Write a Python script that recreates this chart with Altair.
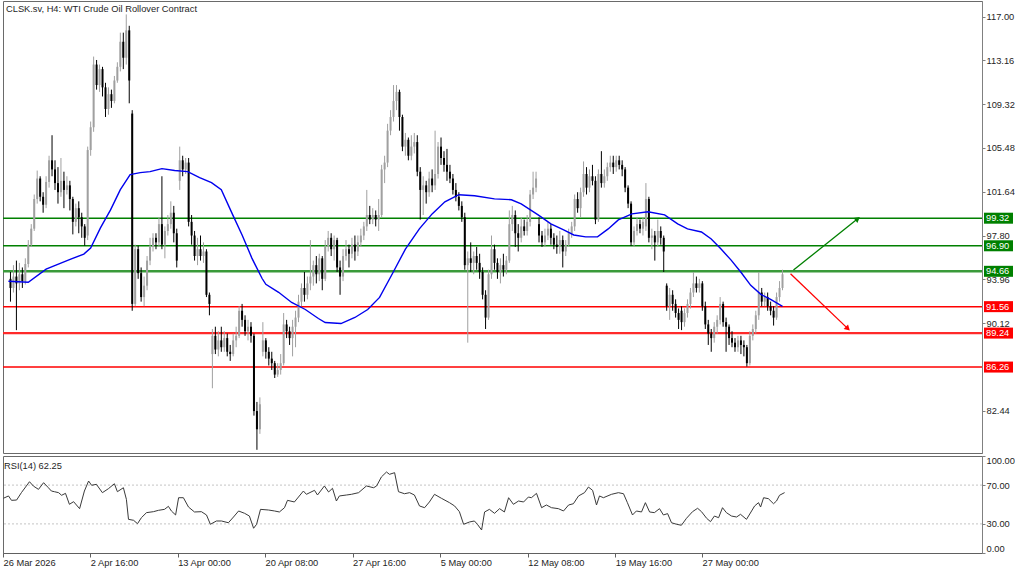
import altair as alt
import pandas as pd

# ---------------- data ----------------
bar_open = [94.0, 93.2, 94.2, 93.6, 94.4, 93.8, 95.3, 97.0, 98.4, 101.0,
 102.8, 101.2, 100.5, 102.5, 104.4, 103.6, 102.4, 101.6, 102.6, 101.8,
 102.2, 101.0, 99.0, 100.2, 99.4, 98.6, 97.8, 105.3, 107.3, 112.8,
 111.0, 112.4, 110.8, 108.9, 110.2, 109.6, 111.4, 112.6, 114.8, 113.4,
 115.8, 108.5, 91.8, 96.6, 94.5, 92.4, 93.4, 95.6, 96.8, 97.6,
 97.2, 98.8, 97.0, 98.2, 98.8, 99.8, 98.0, 102.6, 104.4, 103.6,
 104.2, 99.0, 97.8, 96.0, 96.6, 96.0, 96.4, 92.6, 87.4, 89.0,
 87.8, 88.6, 88.0, 88.8, 87.6, 87.4, 88.6, 89.0, 91.2, 90.4,
 89.4, 89.8, 89.0, 82.4, 80.8, 87.6, 88.6, 87.6, 87.0, 86.6,
 85.6, 86.0, 86.6, 90.0, 89.4, 88.8, 89.8, 90.6, 92.0, 93.2,
 92.6, 93.6, 94.2, 95.2, 94.4, 95.8, 94.0, 96.8, 97.6, 96.6,
 97.4, 95.0, 94.2, 96.0, 96.6, 96.2, 97.0, 96.4, 97.2, 97.8,
 98.6, 99.6, 99.2, 99.6, 99.2, 99.6, 103.6, 104.2, 107.0, 108.2,
 109.6, 110.4, 108.2, 105.6, 106.2, 104.8, 105.6, 106.0, 103.4, 101.8,
 102.2, 101.6, 102.8, 102.2, 103.2, 105.6, 104.6, 104.0, 103.4, 102.8,
 101.8, 101.2, 100.4, 99.4, 95.2, 95.8, 95.4, 96.0, 95.4, 94.6,
 92.6, 90.6, 94.4, 96.6, 95.4, 94.6, 95.2, 94.8, 95.6, 98.8,
 99.6, 98.0, 97.6, 98.6, 98.2, 99.0, 101.4, 102.0, 98.8, 97.8,
 97.2, 97.8, 98.4, 97.6, 97.0, 96.8, 97.4, 96.4, 97.0, 98.0,
 98.6, 101.0, 100.2, 101.6, 103.2, 102.0, 103.0, 102.6, 99.2, 103.2,
 102.4, 103.0, 103.8, 104.2, 103.8, 104.4, 104.0, 103.6, 102.0, 100.6,
 97.2, 98.2, 98.8, 98.4, 98.6, 101.0, 97.6, 97.8, 97.2, 98.2,
 97.6, 93.4, 91.6, 92.6, 91.8, 91.0, 91.2, 90.2, 91.0, 91.8,
 92.8, 93.6, 93.2, 93.6, 91.6, 90.0, 89.2, 88.8, 89.8, 90.4,
 91.8, 90.2, 89.8, 88.8, 88.4, 88.0, 88.6, 88.2, 88.0, 86.6,
 89.0, 89.6, 90.8, 92.8, 92.0, 92.4, 91.6, 91.2, 90.6, 92.4,
 93.2]

bar_high = [94.6, 95.2, 95.6, 95.4, 95.0, 95.8, 97.4, 98.8, 101.4, 103.5,
 103.0, 101.6, 103.0, 104.8, 106.6, 104.4, 103.8, 104.6, 103.4, 103.0,
 102.6, 101.2, 100.6, 100.8, 99.8, 98.8, 105.6, 107.8, 113.5, 113.2,
 112.8, 112.6, 111.2, 110.8, 110.6, 111.8, 113.0, 115.6, 115.6, 117.2,
 116.2, 108.8, 97.0, 96.9, 95.0, 94.2, 96.0, 97.6, 98.0, 98.0,
 99.4, 103.0, 98.6, 99.6, 100.8, 100.4, 98.4, 105.6, 104.8, 104.6,
 104.6, 99.6, 98.2, 97.6, 97.8, 97.2, 96.6, 92.8, 89.6, 89.8,
 89.4, 89.8, 89.4, 89.2, 88.2, 89.2, 89.8, 91.6, 91.8, 90.8,
 90.4, 90.2, 89.2, 83.2, 83.6, 90.2, 88.8, 88.0, 87.6, 86.8,
 86.6, 87.4, 91.0, 90.4, 89.8, 90.4, 91.2, 92.6, 93.6, 94.6,
 94.2, 97.4, 95.6, 96.0, 96.2, 96.0, 97.4, 98.2, 98.0, 97.8,
 97.6, 95.6, 96.6, 97.4, 97.0, 97.6, 97.8, 97.8, 98.4, 99.0,
 101.8, 100.4, 100.2, 100.0, 101.0, 104.0, 104.8, 107.6, 108.8, 111.0,
 111.0, 110.6, 108.4, 106.8, 106.4, 106.6, 106.8, 106.6, 103.8, 103.0,
 102.6, 103.4, 103.6, 107.0, 106.0, 106.4, 105.2, 105.4, 104.0, 103.2,
 102.4, 101.6, 100.8, 99.8, 96.4, 97.2, 96.4, 96.8, 96.2, 95.0,
 93.0, 94.8, 97.8, 97.0, 95.8, 95.8, 96.2, 96.0, 100.0, 100.4,
 100.0, 98.8, 99.4, 99.2, 99.6, 101.8, 103.4, 103.4, 99.4, 98.2,
 98.4, 99.0, 98.8, 98.0, 97.8, 98.2, 97.8, 97.4, 98.4, 99.0,
 101.4, 101.6, 102.0, 104.3, 103.8, 103.6, 104.0, 103.0, 103.6, 105.2,
 103.6, 104.2, 104.8, 104.8, 104.8, 104.8, 104.4, 103.8, 102.2, 100.8,
 98.6, 99.4, 99.2, 99.4, 102.4, 101.2, 98.4, 98.2, 99.2, 98.6,
 97.8, 93.6, 93.2, 93.0, 92.2, 91.4, 91.6, 91.4, 92.2, 93.2,
 94.6, 94.2, 94.0, 93.8, 92.0, 90.4, 89.6, 90.2, 90.8, 92.4,
 92.0, 90.6, 90.0, 89.4, 88.8, 89.0, 89.0, 88.6, 88.2, 89.4,
 90.0, 91.2, 94.6, 93.2, 92.8, 92.8, 92.0, 91.6, 92.8, 93.8,
 94.8]

bar_low = [92.0, 92.8, 89.5, 93.0, 93.2, 93.5, 95.0, 96.8, 98.2, 100.6,
 100.8, 99.8, 100.2, 102.0, 103.0, 101.8, 100.6, 101.2, 100.2, 101.4,
 100.0, 97.9, 98.6, 98.0, 97.6, 96.9, 97.4, 104.8, 106.9, 110.6,
 110.4, 110.0, 108.2, 108.4, 109.0, 109.4, 111.2, 112.2, 112.4, 112.8,
 109.4, 91.2, 91.6, 94.0, 92.0, 91.6, 93.0, 95.2, 96.4, 96.6,
 96.8, 96.6, 95.8, 97.8, 98.4, 97.2, 95.0, 101.8, 103.0, 103.2,
 98.6, 97.0, 95.6, 95.2, 95.6, 95.4, 92.4, 90.8, 84.4, 87.4,
 87.2, 87.6, 87.6, 87.2, 86.8, 87.2, 88.0, 88.8, 89.8, 89.0,
 88.6, 88.4, 82.0, 79.0, 80.4, 87.2, 87.0, 86.4, 86.0, 85.3,
 85.4, 85.6, 86.4, 88.8, 88.2, 87.2, 88.0, 90.2, 91.6, 92.0,
 92.2, 93.0, 93.4, 93.6, 93.8, 93.0, 93.8, 96.4, 96.0, 95.6,
 94.6, 92.6, 93.8, 95.6, 95.0, 95.8, 95.6, 96.0, 96.8, 97.4,
 98.2, 98.8, 98.8, 98.6, 98.2, 99.4, 102.4, 103.8, 106.6, 107.8,
 108.8, 107.0, 105.2, 104.8, 104.4, 104.4, 105.0, 103.0, 99.2, 99.6,
 100.6, 101.2, 101.6, 101.8, 102.8, 104.0, 103.4, 102.6, 102.4, 101.4,
 100.8, 100.0, 99.0, 94.8, 88.4, 94.6, 94.4, 94.8, 94.0, 92.2,
 89.6, 90.4, 94.0, 94.8, 94.0, 93.6, 94.2, 94.4, 95.4, 98.2,
 96.8, 96.4, 97.2, 97.8, 97.8, 98.6, 101.0, 101.6, 97.2, 96.8,
 96.8, 97.4, 97.0, 96.6, 96.2, 96.2, 95.0, 96.0, 96.8, 97.6,
 98.2, 99.8, 99.4, 101.2, 101.4, 101.6, 102.2, 98.8, 99.0, 102.0,
 102.0, 102.6, 103.4, 103.2, 103.4, 103.6, 103.0, 101.6, 100.2, 96.9,
 96.8, 97.8, 98.0, 97.8, 98.2, 97.2, 96.6, 95.6, 96.8, 97.0,
 94.6, 91.2, 90.4, 91.2, 90.6, 89.6, 89.5, 89.8, 90.6, 91.4,
 92.4, 92.8, 92.8, 91.2, 89.6, 88.2, 87.6, 88.4, 89.2, 90.0,
 89.8, 87.6, 88.2, 88.0, 87.6, 87.6, 87.4, 87.2, 86.3, 86.4,
 88.6, 89.2, 90.4, 91.6, 91.6, 91.2, 90.8, 89.9, 90.4, 92.0,
 93.0]

bar_close = [93.2, 94.2, 93.6, 94.4, 93.8, 95.3, 97.0, 98.4, 101.0, 102.8,
 101.2, 100.5, 102.5, 104.4, 103.6, 102.4, 101.6, 102.6, 101.8, 102.2,
 101.0, 99.0, 100.2, 99.4, 98.6, 97.6, 105.3, 107.3, 112.8, 111.0,
 112.4, 110.8, 108.9, 110.2, 109.6, 111.4, 112.6, 114.8, 113.4, 115.8,
 111.4, 91.8, 96.6, 94.5, 92.4, 93.4, 95.6, 96.8, 97.6, 97.2,
 98.8, 97.0, 98.2, 98.8, 99.8, 98.0, 95.6, 104.4, 103.6, 104.2,
 99.0, 97.8, 96.0, 96.6, 96.0, 96.4, 92.6, 91.8, 89.0, 87.8,
 88.6, 88.0, 88.8, 87.6, 87.4, 88.6, 89.0, 91.2, 90.4, 89.4,
 89.8, 89.0, 82.4, 80.8, 83.0, 88.6, 87.6, 87.0, 86.6, 85.6,
 86.0, 86.6, 90.0, 89.4, 88.8, 89.8, 90.6, 92.0, 93.2, 92.6,
 93.6, 94.2, 95.2, 94.4, 95.8, 94.0, 96.8, 97.6, 96.6, 97.4,
 95.0, 94.2, 96.0, 96.6, 96.2, 97.0, 96.4, 97.2, 97.8, 98.6,
 99.6, 99.2, 99.6, 99.2, 99.6, 103.6, 104.2, 107.0, 108.2, 109.6,
 110.4, 108.2, 105.6, 106.2, 104.8, 105.6, 106.0, 103.4, 101.8, 102.2,
 101.6, 102.8, 102.2, 103.2, 105.6, 104.6, 104.0, 103.4, 102.8, 101.8,
 101.2, 100.4, 99.4, 95.2, 95.8, 95.4, 96.0, 95.4, 94.6, 92.6,
 90.6, 94.4, 96.6, 95.4, 94.6, 95.2, 94.8, 95.6, 98.8, 99.6,
 98.0, 97.6, 98.6, 98.2, 99.0, 101.4, 102.0, 102.8, 97.8, 97.2,
 97.8, 98.4, 97.6, 97.0, 96.8, 97.4, 96.4, 97.0, 98.0, 98.6,
 101.0, 100.2, 101.6, 103.2, 102.0, 103.0, 102.6, 99.2, 103.2, 102.4,
 103.0, 103.8, 104.2, 103.8, 104.4, 104.0, 103.6, 102.0, 100.6, 97.2,
 98.2, 98.8, 98.4, 99.0, 101.0, 97.6, 97.8, 97.2, 98.2, 97.6,
 96.4, 91.6, 92.6, 91.8, 91.0, 90.4, 90.2, 91.0, 91.8, 92.8,
 93.6, 93.2, 93.6, 91.6, 90.0, 89.2, 88.8, 89.8, 90.4, 91.8,
 90.2, 89.8, 88.8, 88.4, 88.0, 88.6, 88.2, 88.0, 86.6, 89.0,
 89.6, 90.8, 92.8, 92.0, 92.4, 91.6, 91.2, 90.6, 92.4, 93.2,
 94.4]

ma_bar = [-0.7, 6, 12, 15.3, 20.3, 24.7, 27, 30.3, 33.7, 37, 40.3, 43.7, 47, 51,
 55.3, 59.7, 63.7, 67.7, 71, 74.7, 78, 81.3, 84.7, 86, 90.3, 94.7, 99.3,
 103.7, 106, 111.3, 116, 120.3, 124.3, 128.7, 133, 137.7, 142, 146.3, 151,
 156.3, 163, 168.7, 172, 177.7, 182, 186.3, 189.7, 193.7, 197.7, 201.3,
 204.7, 209.3, 214.7, 220.3, 224.7, 228, 232.7, 236, 239.3, 242.7, 246,
 249.3, 252.7, 256, 260]
ma_value = [93.79, 93.70, 94.85, 95.20, 95.73, 96.17, 96.70, 98.47, 100.05,
 101.82, 103.14, 103.32, 103.41, 103.67, 103.50, 103.41, 102.88, 102.44,
 101.82, 99.70, 97.85, 95.82, 94.05, 93.52, 92.82, 91.93, 91.31, 90.52,
 90.17, 90.08, 90.61, 91.31, 92.37, 94.49, 96.61, 98.38, 99.70, 100.76,
 101.38, 101.29, 101.02, 100.94, 100.58, 99.61, 98.82, 98.29, 97.85, 97.68,
 97.68, 98.38, 99.17, 99.70, 99.88, 99.61, 98.82, 98.38, 98.11, 97.50,
 96.61, 95.64, 94.58, 93.43, 92.64, 92.20, 91.58]

rsi_bar = [-0.7, 1, 2, 3.7, 5.3, 8, 9.3, 11, 12.7, 14.3, 15.3, 16.3, 17.7, 18.7,
 20, 21.3, 22.7, 24.7, 26.3, 27.7, 28.7, 30.3, 32.3, 34.3, 36.3, 37.3, 39.3,
 40.3, 41, 42.7, 44, 45.3, 47, 49.3, 51, 53, 54.3, 55.3, 56.7, 57.7, 59.3, 61,
 63, 65.3, 67, 68.3, 70.3, 72, 74.3, 76, 77.7, 79.7, 81.3, 82.7, 83.7, 85,
 87.7, 89.7, 91.3, 93, 94, 96.3, 99.3, 100.3, 103, 104, 106.3, 107.7, 109,
 110.3, 111.3, 113.7, 115.3, 117.7, 120.3, 122.7, 123.7, 125.3, 127, 128,
 129.7, 131, 133, 134.7, 136.3, 138, 139.7, 141.3, 143, 145.3, 148, 149.7,
 151.3, 152.7, 154.7, 156.3, 157.3, 158.7, 159.7, 161.3, 163, 164.7, 166.3,
 167.7, 169.3, 171, 172.7, 174.3, 175.3, 177, 178.7, 180.3, 182, 184.3, 186,
 187.7, 189.3, 191, 193, 194.3, 195.7, 197, 198, 199.3, 202, 204.3, 206,
 207.3, 209, 210.3, 212, 213.3, 214.7, 216.3, 218, 219.3, 220.7, 222, 223.7,
 225.3, 227, 229, 230.7, 232, 233.7, 235, 236.3, 237.7, 239, 240.3, 242,
 243.7, 245, 247, 248.7, 249.7, 251, 251.7, 252.7, 254.3, 256, 257, 258,
 259.7]
rsi_value = [56.4, 58.8, 54.3, 54.6, 62.2, 73.5, 69.0, 65.6, 72.5, 67.3, 63.9,
 63.2, 62.2, 59.5, 61.5, 50.2, 52.9, 45.7, 63.9, 74.2, 69.8, 70.8, 62.2, 66.3,
 71.4, 63.2, 67.3, 55.3, 34.7, 33.7, 30.2, 36.4, 41.6, 42.6, 44.0, 45.0, 48.1,
 43.3, 39.2, 57.0, 57.0, 47.4, 42.3, 42.6, 39.2, 29.6, 33.0, 33.0, 31.2, 37.1,
 43.3, 40.9, 38.1, 25.5, 29.6, 45.0, 44.3, 43.3, 42.3, 46.7, 54.3, 52.6, 63.9,
 60.5, 64.6, 59.8, 69.1, 62.9, 66.7, 53.6, 58.8, 59.8, 60.5, 62.2, 69.1, 67.3,
 69.1, 78.4, 83.5, 81.1, 82.8, 63.2, 61.1, 62.2, 59.8, 48.5, 46.7, 52.6, 60.5,
 56.4, 51.9, 48.5, 42.6, 29.6, 32.0, 33.0, 29.6, 23.7, 42.3, 45.0, 40.9, 45.7,
 42.3, 57.0, 50.2, 53.6, 52.6, 57.7, 57.0, 61.5, 46.7, 49.5, 46.7, 45.7, 43.3,
 49.5, 50.8, 58.8, 62.2, 68.0, 64.6, 49.5, 58.8, 57.0, 60.5, 62.2, 61.1, 51.9,
 39.2, 43.3, 42.3, 51.9, 42.3, 41.6, 45.7, 39.2, 40.6, 31.2, 29.6, 28.6, 35.8,
 42.6, 46.1, 42.6, 35.8, 32.3, 38.1, 36.4, 46.7, 41.6, 38.1, 37.1, 39.9, 34.7,
 43.3, 48.5, 51.9, 47.4, 57.0, 56.0, 50.8, 53.6, 59.5, 62.25]

level_values = [99.32, 96.90, 94.66, 91.56, 89.24, 86.26]
level_labels = ["99.32", "96.90", "94.66", "91.56", "89.24", "86.26"]
level_kind = ["res", "res", "res_key", "sup", "sup_key", "sup"]

price_ticks = [117.00, 113.16, 109.32, 105.48, 101.64, 97.80, 93.96, 90.12, 82.44]
rsi_ticks = [0, 30, 70, 100]
rsi_bands = [70, 30]
time_tick_bars = [-0.83, 28.27, 57.4, 86.5, 115.7, 144.9, 174.07, 203.27, 232.17]
time_tick_labels = ["26 Mar 2026", "2 Apr 16:00", "13 Apr 00:00", "20 Apr 08:00",
                    "27 Apr 16:00", "5 May 00:00", "12 May 08:00", "19 May 16:00",
                    "27 May 00:00"]

up_arrow_bar = [263.7, 285.3]
up_arrow_price = [94.77, 99.27]
down_arrow_bar = [262.7, 282.0]
down_arrow_price = [94.45, 89.63]

chart_title = "CLSK.sv, H4:  WTI Crude Oil Rollover Contract"
rsi_title = "RSI(14) 62.25"

# ---------------- tables ----------------
candles = pd.DataFrame({
    "bar": list(range(len(bar_open))),
    "open": bar_open, "high": bar_high, "low": bar_low, "close": bar_close,
})
candles["dir"] = ["up" if c >= o else "down" for o, c in zip(bar_open, bar_close)]
ma = pd.DataFrame({"bar": ma_bar, "ma": ma_value})
rsi = pd.DataFrame({"bar": rsi_bar, "rsi": rsi_value})
levels = pd.DataFrame({"level": level_values, "label": level_labels, "kind": level_kind})
up_arrow = pd.DataFrame({"bar": up_arrow_bar, "price": up_arrow_price})
down_arrow = pd.DataFrame({"bar": down_arrow_bar, "price": down_arrow_price})

# ---------------- styling ----------------
FONT = "Liberation Sans"
FS = 9.3
TXT = "#1e1e1e"
W, H_MAIN, H_RSI = 979, 452, 97
GREEN, GREEN_KEY, RED, RED_KEY = "#008000", "#3a9a3a", "#ff0000", "#ff2a2a"
UP_COL, DOWN_COL = "#a0a0a0", "#000000"

xscale = alt.Scale(domain=[-0.833, 325.5], nice=False, zero=False)
yscale = alt.Scale(domain=[78.72, 118.376], nice=False, zero=False)
rscale = alt.Scale(domain=[0, 100], nice=False, zero=False)

price_axis = alt.Axis(orient="right", values=price_ticks, format=".2f", title=None,
                      grid=False, tickSize=3, tickColor="#808080", domainColor="#808080",
                      labelFont=FONT, labelFontSize=FS, labelColor=TXT, labelPadding=1,
                      labelFlush=False, labelOverlap=False)
rsi_axis = alt.Axis(orient="right", values=rsi_ticks, format=".2f", title=None,
                    grid=False, tickSize=3, tickColor="#808080", domainColor="#808080",
                    labelFont=FONT, labelFontSize=FS, labelColor=TXT, labelPadding=1,
                    labelFlush=True, labelOverlap=False)

expr = "'" + time_tick_labels[-1] + "'"
for k in range(len(time_tick_bars) - 2, -1, -1):
    mid = (time_tick_bars[k] + time_tick_bars[k + 1]) / 2
    expr = f"datum.value < {mid:.2f} ? '{time_tick_labels[k]}' : ({expr})"
time_axis = alt.Axis(values=time_tick_bars, labelExpr=expr, title=None, grid=False,
                     labelAlign="left", labelFlush=False, labelOverlap=False,
                     tickSize=4, tickColor="#606060", domainColor="#606060",
                     labelFont=FONT, labelFontSize=FS, labelColor=TXT, labelPadding=1)

X = alt.X("bar:Q", scale=xscale, axis=None)


def Y(field):
    return alt.Y(field, scale=yscale, axis=price_axis)


candle_base = alt.Chart(candles)
layers = []
for d, col in (("up", UP_COL), ("down", DOWN_COL)):
    sub = candle_base.transform_filter(alt.datum.dir == d)
    layers.append(sub.mark_rule(strokeWidth=1, color=col).encode(
        x=X, y=Y("low:Q"), y2="high:Q"))
    layers.append(sub.mark_bar(size=2, color=col).encode(
        x=X, y=Y("open:Q"), y2="close:Q"))

ma_line = alt.Chart(ma).mark_line(color="#0000ee", strokeWidth=1.4).encode(
    x=X, y=Y("ma:Q"))

level_layers = []
for kind, col, sw in (("res", GREEN, 1.4), ("res_key", GREEN_KEY, 2.4),
                      ("sup", RED, 1.5), ("sup_key", RED_KEY, 2.2)):
    level_layers.append(alt.Chart(levels).transform_filter(alt.datum.kind == kind)
                        .mark_rule(color=col, strokeWidth=sw).encode(y=Y("level:Q")))

box_layers = []
for prefix, col in (("res", GREEN), ("sup", RED)):
    box_layers.append(alt.Chart(levels)
                      .transform_filter(f"indexof(datum.kind, '{prefix}') == 0")
                      .mark_tick(size=29, thickness=11, filled=True, opacity=1, color=col)
                      .encode(x=alt.value(995.5), y=Y("level:Q")))
box_text = alt.Chart(levels).mark_text(align="left", baseline="middle", color="white",
                                       font=FONT, fontSize=FS).encode(
    x=alt.value(983), y=Y("level:Q"), text="label:N")

up_line = alt.Chart(up_arrow).mark_line(color=GREEN, strokeWidth=1.3).encode(
    x=X, y=Y("price:Q"))
up_head = alt.Chart(up_arrow.tail(1)).mark_point(
    shape="triangle-up", filled=True, size=40, opacity=1, color=GREEN, angle=52).encode(
    x=X, y=Y("price:Q"))
down_line = alt.Chart(down_arrow).mark_line(color=RED, strokeWidth=1.3).encode(
    x=X, y=Y("price:Q"))
down_head = alt.Chart(down_arrow.tail(1)).mark_point(
    shape="triangle-up", filled=True, size=40, opacity=1, color=RED, angle=134).encode(
    x=X, y=Y("price:Q"))

title_mark = alt.Chart(pd.DataFrame({"t": [chart_title]})).mark_text(
    align="left", baseline="middle", font=FONT, fontSize=FS, color=TXT).encode(
    x=alt.value(3), y=alt.value(8), text="t:N")

main = alt.layer(*level_layers, *layers, ma_line, up_line, up_head, down_line,
                 down_head, *box_layers, box_text, title_mark).properties(
    width=W, height=H_MAIN)

XR = alt.X("bar:Q", scale=xscale, axis=time_axis)
rsi_rules = alt.Chart(pd.DataFrame({"lvl": rsi_bands})).mark_rule(
    color="#c4c4c4", strokeDash=[2, 2], strokeWidth=1).encode(
    y=alt.Y("lvl:Q", scale=rscale, axis=rsi_axis))
rsi_line = alt.Chart(rsi).mark_line(color="#3a3a3a", strokeWidth=1).encode(
    x=XR, y=alt.Y("rsi:Q", scale=rscale, axis=rsi_axis))
rsi_label = alt.Chart(pd.DataFrame({"t": [rsi_title]})).mark_text(
    align="left", baseline="middle", font=FONT, fontSize=FS, color=TXT).encode(
    x=alt.value(1), y=alt.value(10), text="t:N")

rsi_panel = alt.layer(rsi_rules, rsi_line, rsi_label).properties(width=W, height=H_RSI)

chart = alt.vconcat(main, rsi_panel, spacing=1).resolve_scale(
    x="independent", y="independent").resolve_axis(x="independent", y="independent").properties(
    padding={"left": 0, "top": 0, "right": 0, "bottom": 0}, background="white"
).configure_view(stroke="#6a6a6a", strokeWidth=1)

chart.save("out.html", embed_options={"renderer": "svg", "actions": False})
